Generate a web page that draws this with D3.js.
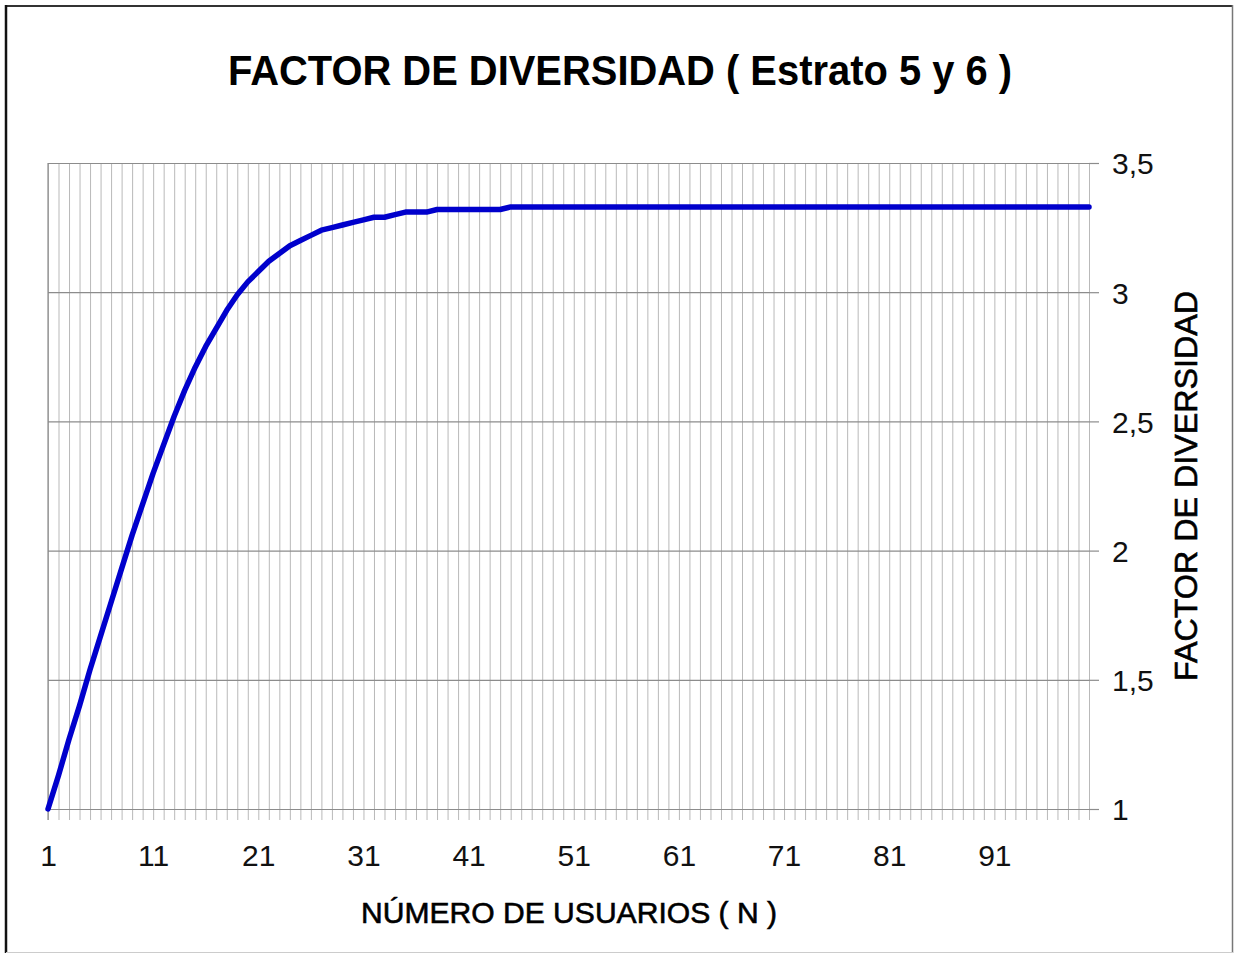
<!DOCTYPE html>
<html>
<head>
<meta charset="utf-8">
<script src="https://cdn.jsdelivr.net/npm/d3@7"></script>
<style>
  html, body { margin: 0; padding: 0; background: #fff; }
  svg { display: block; font-family: "Liberation Sans", Arial, sans-serif; }
</style>
</head>
<body>
<svg id="chart" width="1235" height="958"></svg>
<script>
// Número de usuarios N (categorías 1..100)
const usuarios = d3.range(1, 101);

// Factor de diversidad para cada N
const factorDiversidad = [
  1.00, 1.13, 1.27, 1.40, 1.54, 1.67, 1.80, 1.93, 2.06, 2.18,
  2.30, 2.41, 2.52, 2.62, 2.71, 2.79, 2.86, 2.93, 2.99, 3.04,
  3.08, 3.12, 3.15, 3.18, 3.20, 3.22, 3.24, 3.25, 3.26, 3.27,
  3.28, 3.29, 3.29, 3.30, 3.31, 3.31, 3.31, 3.32, 3.32, 3.32,
  3.32, 3.32, 3.32, 3.32, 3.33, 3.33, 3.33, 3.33, 3.33, 3.33,
  3.33, 3.33, 3.33, 3.33, 3.33, 3.33, 3.33, 3.33, 3.33, 3.33,
  3.33, 3.33, 3.33, 3.33, 3.33, 3.33, 3.33, 3.33, 3.33, 3.33,
  3.33, 3.33, 3.33, 3.33, 3.33, 3.33, 3.33, 3.33, 3.33, 3.33,
  3.33, 3.33, 3.33, 3.33, 3.33, 3.33, 3.33, 3.33, 3.33, 3.33,
  3.33, 3.33, 3.33, 3.33, 3.33, 3.33, 3.33, 3.33, 3.33, 3.33
];

// Etiquetas del eje X y del eje Y
const xTickLabels = [1, 11, 21, 31, 41, 51, 61, 71, 81, 91];
const yTicks = [1, 1.5, 2, 2.5, 3, 3.5];

const titulo = "FACTOR DE DIVERSIDAD ( Estrato 5 y 6 )";
const tituloX = "NÚMERO DE USUARIOS ( N )";
const tituloY = "FACTOR DE DIVERSIDAD";

const svg = d3.select("#chart");
const W = 1235, H = 958;
const plot = { left: 48, right: 1089, top: 163, bottom: 809 };

const x = d3.scalePoint().domain(usuarios).range([plot.left, plot.right]);
const y = d3.scaleLinear().domain([1, 3.5]).range([plot.bottom, plot.top]);

// Marco exterior
svg.append("rect").attr("x", 0).attr("y", 0).attr("width", W).attr("height", H).attr("fill", "#fff");
svg.append("line").attr("x1", 6).attr("x2", 1232).attr("y1", 6).attr("y2", 6)
  .attr("stroke", "#333").attr("stroke-width", 2);
svg.append("line").attr("x1", 6).attr("x2", 6).attr("y1", 5).attr("y2", 953)
  .attr("stroke", "#111").attr("stroke-width", 2.5);
svg.append("line").attr("x1", 1232.5).attr("x2", 1232.5).attr("y1", 5).attr("y2", 953)
  .attr("stroke", "#777").attr("stroke-width", 1.5);
svg.append("line").attr("x1", 6).attr("x2", 1233).attr("y1", 952.5).attr("y2", 952.5)
  .attr("stroke", "#ccc").attr("stroke-width", 1);

// Líneas verticales de cuadrícula (una por categoría)
svg.append("g")
  .attr("transform", `translate(0,${plot.bottom})`)
  .call(d3.axisBottom(x).tickSize(-(plot.bottom - plot.top)).tickFormat(""))
  .call(g => g.select(".domain").remove())
  .call(g => g.selectAll(".tick line").attr("stroke", "#b9b9b9").attr("stroke-width", 1));

// Eje X: marcas bajo el eje y etiquetas cada 10 usuarios
const xAxis = svg.append("g")
  .attr("transform", `translate(0,${plot.bottom})`)
  .call(d3.axisBottom(x).tickSize(11)
    .tickFormat(d => xTickLabels.includes(d) ? String(d) : ""))
  .call(g => g.select(".domain").remove())
  .call(g => g.selectAll(".tick line").attr("stroke", "#b9b9b9").attr("stroke-width", 1));
xAxis.selectAll(".tick text")
  .attr("y", 57).attr("dy", 0)
  .attr("fill", "#111")
  .style("font-size", "30px")
  .style("font-family", "'Liberation Sans', Arial, sans-serif");

// Líneas horizontales de cuadrícula
svg.append("g")
  .attr("transform", `translate(${plot.right},0)`)
  .call(d3.axisRight(y).tickValues(yTicks).tickSize(-(plot.right - plot.left)).tickFormat(""))
  .call(g => g.select(".domain").remove())
  .call(g => g.selectAll(".tick line").attr("stroke", "#8c8c8c").attr("stroke-width", 1.2));

// Eje Y a la derecha, con coma decimal
const yAxis = svg.append("g")
  .attr("transform", `translate(${plot.right},0)`)
  .call(d3.axisRight(y).tickValues(yTicks).tickSize(10).tickPadding(13)
    .tickFormat(d => String(d).replace(".", ",")))
  .call(g => g.select(".domain").remove())
  .call(g => g.selectAll(".tick line").attr("stroke", "#8c8c8c").attr("stroke-width", 1.2));
yAxis.selectAll(".tick text")
  .attr("fill", "#111")
  .attr("dy", "0.36em")
  .style("font-size", "30px")
  .style("font-family", "'Liberation Sans', Arial, sans-serif");

// Borde izquierdo del área de trazado
svg.append("line")
  .attr("x1", plot.left).attr("x2", plot.left)
  .attr("y1", plot.top).attr("y2", plot.bottom + 11)
  .attr("stroke", "#8c8c8c").attr("stroke-width", 1.2);

// Curva del factor de diversidad
const puntos = usuarios.map((n, i) => ({ n, v: factorDiversidad[i] }));
svg.append("path")
  .datum(puntos)
  .attr("fill", "none")
  .attr("stroke", "#0000cc")
  .attr("stroke-width", 5.5)
  .attr("stroke-linejoin", "round")
  .attr("stroke-linecap", "round")
  .attr("d", d3.line().x(d => x(d.n)).y(d => y(d.v)));

// Títulos
svg.append("text")
  .attr("x", 228).attr("y", 85)
  .attr("textLength", 784).attr("lengthAdjust", "spacingAndGlyphs")
  .attr("font-size", 43).attr("font-weight", "bold").attr("fill", "#000")
  .text(titulo);

svg.append("text")
  .attr("x", 569).attr("y", 923)
  .attr("text-anchor", "middle")
  .attr("font-size", 30).attr("fill", "#000")
  .attr("stroke", "#000").attr("stroke-width", 0.6)
  .attr("textLength", 416).attr("lengthAdjust", "spacingAndGlyphs")
  .text(tituloX);

svg.append("text")
  .attr("transform", `translate(1197,486) rotate(-90)`)
  .attr("text-anchor", "middle")
  .attr("font-size", 32).attr("fill", "#000")
  .attr("stroke", "#000").attr("stroke-width", 0.6)
  .attr("textLength", 390).attr("lengthAdjust", "spacingAndGlyphs")
  .text(tituloY);
</script>
</body>
</html>
